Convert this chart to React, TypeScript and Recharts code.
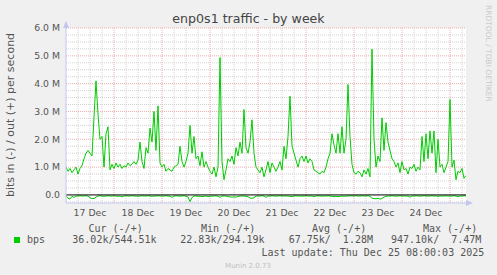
import {
  ComposedChart,
  XAxis,
  YAxis,
  Line,
  ReferenceLine,
  CartesianGrid,
} from "recharts";

// hourly samples, Dec 17 00:00 -> Dec 25 08:00, in Mbit/s
const outMbps = [
  1.0, 0.85, 0.95, 0.8, 0.9, 1.0, 0.75, 0.95, 1.05, 1.3,
  1.5, 1.6, 1.5, 1.4, 2.8, 4.1, 2.9, 2.0, 2.1, 1.0,
  2.2, 2.45, 0.9, 1.1, 0.95, 1.15, 1.0, 1.1, 0.95, 1.05,
  1.0, 1.15, 1.05, 1.1, 1.2, 1.1, 1.25, 1.9, 1.2, 0.95,
  1.7, 1.5, 2.4, 1.9, 3.0, 1.6, 3.2, 1.15, 1.0, 1.1,
  0.85, 0.95, 0.9, 0.85, 1.0, 1.05, 1.1, 1.75, 1.2, 1.0,
  1.2, 1.5, 2.5, 1.5, 2.1, 1.3, 1.4, 1.05, 1.55, 1.0,
  1.2, 1.0, 0.85, 0.75, 1.0, 0.65, 1.0, 4.94, 1.2, 0.55,
  0.9, 1.3, 1.2, 1.4, 1.1, 1.7, 1.4, 1.9, 1.5, 3.07,
  1.7, 1.5, 1.9, 2.7, 1.5, 1.0, 0.9, 0.8, 1.0, 0.65,
  0.9, 1.2, 0.8, 1.15, 1.0, 0.85, 1.0, 1.2, 0.9, 1.75,
  1.3, 2.1, 3.55, 1.75, 1.5, 1.25, 1.0, 1.3, 1.4, 1.2,
  1.4, 1.15, 1.3, 1.2, 0.9, 0.85, 0.8, 0.75, 0.85, 0.8,
  1.0, 1.3, 1.5, 2.2, 1.8, 1.5, 2.2, 1.5, 2.45, 1.5,
  2.0, 3.97, 2.1, 1.1, 0.8, 0.75, 0.85, 0.8, 0.65, 0.9,
  0.75, 0.95, 0.65, 5.24, 2.0, 1.0, 1.4, 1.2, 2.77, 1.6,
  2.6, 1.9, 1.6, 1.3, 1.2, 1.0, 1.15, 0.8, 1.2, 0.9,
  0.95, 0.75, 1.0, 0.95, 1.1, 0.85, 1.0, 0.9, 2.1, 1.2,
  2.2, 1.3, 2.3, 1.5, 2.3, 0.8, 2.0, 1.0, 1.1, 0.8,
  1.0, 1.2, 3.43, 1.0, 1.25, 0.55, 0.85, 0.8, 0.95, 0.6,
  0.7,
];

// "in" is drawn negated (munin -/+ style)
const inMbps = [
  -0.03, -0.12, -0.15, -0.05, -0.09, -0.04, -0.04, -0.03, -0.04, -0.04,
  -0.03, -0.04, -0.1, -0.13, -0.13, -0.08, -0.04, -0.03, -0.04, -0.05,
  -0.04, -0.03, -0.04, -0.04, -0.03, -0.04, -0.05, -0.04, -0.07, -0.04,
  -0.03, -0.04, -0.04, -0.03, -0.04, -0.04, -0.05, -0.04, -0.03, -0.04,
  -0.04, -0.03, -0.04, -0.05, -0.04, -0.04, -0.03, -0.04, -0.04, -0.04,
  -0.03, -0.04, -0.05, -0.09, -0.04, -0.03, -0.04, -0.04, -0.04, -0.03,
  -0.05, -0.07, -0.24, -0.1, -0.04, -0.04, -0.05, -0.05, -0.06, -0.05,
  -0.04, -0.06, -0.05, -0.04, -0.04, -0.03, -0.05, -0.09, -0.04, -0.04,
  -0.04, -0.06, -0.07, -0.08, -0.07, -0.08, -0.06, -0.04, -0.04, -0.04,
  -0.05, -0.06, -0.11, -0.12, -0.1, -0.04, -0.04, -0.04, -0.03, -0.04,
  -0.09, -0.04, -0.04, -0.03, -0.04, -0.04, -0.04, -0.03, -0.04, -0.04,
  -0.04, -0.04, -0.05, -0.06, -0.04, -0.03, -0.04, -0.04, -0.04, -0.04,
  -0.03, -0.04, -0.04, -0.04, -0.06, -0.04, -0.03, -0.04, -0.04, -0.04,
  -0.04, -0.03, -0.04, -0.05, -0.06, -0.05, -0.06, -0.05, -0.04, -0.05,
  -0.04, -0.04, -0.03, -0.04, -0.04, -0.03, -0.04, -0.04, -0.03, -0.04,
  -0.04, -0.03, -0.05, -0.12, -0.13, -0.14, -0.12, -0.15, -0.13, -0.08,
  -0.05, -0.04, -0.04, -0.03, -0.04, -0.04, -0.04, -0.03, -0.04, -0.04,
  -0.04, -0.04, -0.08, -0.04, -0.04, -0.03, -0.04, -0.04, -0.04, -0.03,
  -0.04, -0.04, -0.04, -0.03, -0.04, -0.04, -0.05, -0.04, -0.04, -0.04,
  -0.03, -0.04, -0.04, -0.04, -0.03, -0.04, -0.06, -0.04, -0.04, -0.03,
  -0.04,
];

const dayLabels = ["17 Dec", "18 Dec", "19 Dec", "20 Dec", "21 Dec", "22 Dec", "23 Dec", "24 Dec"];
const yTicks = [0, 1, 2, 3, 4, 5, 6];
const legendHeaders = ["Cur (-/+)", "Min (-/+)", "Avg (-/+)", "Max (-/+)"];
const legendValues = ["36.02k/544.51k", "22.83k/294.19k", "67.75k/  1.28M", "947.10k/  7.47M"];

const rows = outMbps.map((v, i) => ({ h: i, out: v, in: inMbps[i] }));
const labelHours = dayLabels.map((_, i) => 12 + i * 24);
const majorX = dayLabels.map((_, i) => (i + 1) * 24);
const minorX: number[] = [];
for (let h = 6; h < 200; h += 6) if (h % 24 !== 0) minorX.push(h);
const majorY = [1, 2, 3, 4, 5, 6];
const minorY: number[] = [];
for (let v = -0.25; v < 6; v += 0.25) if (Math.abs(v - Math.round(v)) > 0.01) minorY.push(v);

const GREEN = "#00cc00";
const AXIS = "#c4c6ee";
const SANS = "DejaVu Sans";
const MONO = "DejaVu Sans Mono";

export default function App() {
  return (
    <div style={{ position: "absolute", left: 0, top: 0, width: 497, height: 275, background: "#f0f0f0" }}>
      <ComposedChart
        width={497}
        height={275}
        data={rows}
        margin={{ top: 28, right: 31, bottom: 52, left: 0 }}
      >
        <CartesianGrid fill="#ffffff" horizontal={false} vertical={false} />
        {minorY.map((v) => (
          <ReferenceLine key={"my" + v} y={v} stroke="#d2d2d2" strokeDasharray="1 1" />
        ))}
        {minorX.map((h) => (
          <ReferenceLine key={"mx" + h} x={h} stroke="#d2d2d2" strokeDasharray="1 1" />
        ))}
        {majorY.map((v) => (
          <ReferenceLine key={"My" + v} y={v} stroke="#f0acac" strokeDasharray="1 1" />
        ))}
        {majorX.map((h) => (
          <ReferenceLine key={"Mx" + h} x={h} stroke="#f0acac" strokeDasharray="1 1" />
        ))}
        <XAxis
          type="number"
          dataKey="h"
          domain={[0, 200]}
          allowDataOverflow
          ticks={labelHours}
          tickFormatter={(h: number) => dayLabels[(h - 12) / 24]}
          height={20}
          axisLine={{ stroke: AXIS }}
          tickLine={false}
          tickSize={3}
          tickMargin={3}
          tick={{ fontSize: 9.3, fill: "#555", fontFamily: SANS }}
        />
        <YAxis
          type="number"
          domain={[-0.29, 6]}
          allowDataOverflow
          ticks={yTicks}
          tickFormatter={(v: number) => (v === 0 ? "0.0" : v.toFixed(1) + " M")}
          width={66}
          axisLine={{ stroke: AXIS }}
          tickLine={false}
          tickSize={3}
          tickMargin={3}
          tick={{ fontSize: 9.3, fill: "#555", fontFamily: SANS }}
        />
        <Line
          type="linear"
          dataKey="in"
          stroke={GREEN}
          strokeWidth={1}
          dot={false}
          isAnimationActive={false}
        />
        <Line
          type="linear"
          dataKey="out"
          stroke={GREEN}
          strokeWidth={1}
          dot={false}
          isAnimationActive={false}
        />
        <ReferenceLine y={0} stroke="#000000" strokeWidth={1} />
      </ComposedChart>

      <svg
        width={497}
        height={275}
        style={{ position: "absolute", left: 0, top: 0, pointerEvents: "none" }}
      >
        {/* axis arrows */}
        <path d="M63 28 L66 21 L69 28 Z" fill={AXIS} />
        <path d="M466 200 L473 203 L466 206 Z" fill={AXIS} />

        <text x={248.5} y={22.5} textAnchor="middle" fontFamily={SANS} fontSize={12.6} fill="#444">
          enp0s1 traffic - by week
        </text>
        <text
          transform="translate(14,115) rotate(-90)"
          textAnchor="middle"
          fontFamily={SANS}
          fontSize={11}
          fill="#555"
        >
          bits in (-) / out (+) per second
        </text>
        <text
          transform="translate(485.5,5) rotate(90)"
          fontFamily={SANS}
          fontSize={7.5}
          fill="#cacaca"
        >
          RRDTOOL / TOBI OETIKER
        </text>

        {legendHeaders.map((t, i) => (
          <text key={t} x={[88.5, 201, 312, 423][i]} y={231.5} fontFamily={MONO} fontSize={10} fill="#555" style={{ whiteSpace: "pre" }}>
            {t}
          </text>
        ))}
        <rect x={14} y={237} width={6} height={6} fill={GREEN} />
        <text x={27} y={243} fontFamily={MONO} fontSize={10} fill="#555">bps</text>
        {legendValues.map((t, i) => (
          <text key={t} x={[72.3, 180.3, 288.7, 391][i]} y={243} fontFamily={MONO} fontSize={10} fill="#555" style={{ whiteSpace: "pre" }}>
            {t}
          </text>
        ))}
        <text x={261.5} y={255.5} fontFamily={MONO} fontSize={10} fill="#555">
          Last update: Thu Dec 25 08:00:03 2025
        </text>
        <text x={248} y={268} textAnchor="middle" fontFamily={SANS} fontSize={7} fill="#c0c0c0">
          Munin 2.0.73
        </text>
      </svg>
    </div>
  );
}
